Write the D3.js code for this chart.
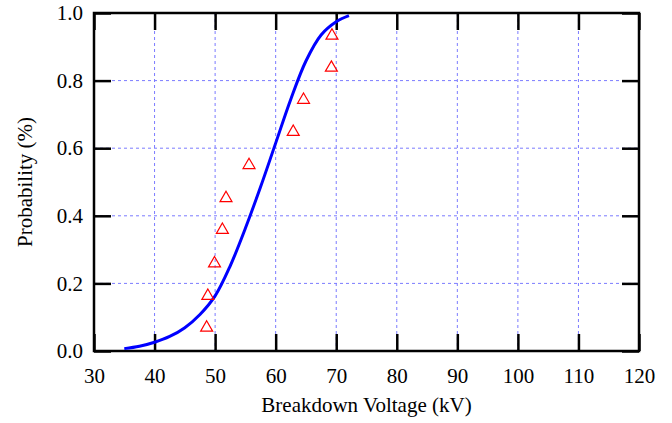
<!DOCTYPE html>
<meta charset="utf-8">
<script src="https://d3js.org/d3.v7.min.js"></script>
<style>
  body { margin: 0; background: #fff; }
  text { font-family: "Liberation Serif", "Times New Roman", serif; fill: #000; }
</style>
<svg id="chart" width="672" height="423"></svg>
<script>

// measured breakdown points
var voltage = [48.6, 48.8, 49.9, 51.2, 51.8, 55.6, 62.9, 64.6, 69.2, 69.3];
var prob    = [0.072, 0.166, 0.262, 0.361, 0.455, 0.553, 0.651, 0.746, 0.841, 0.936];

// fitted curve
var curveV = [35, 37.5, 40, 42.5, 45, 47.5, 50, 52.5, 55, 57.5, 60, 62.5, 65, 67.5, 70, 72.1];
var curveP = [0.007, 0.014, 0.026, 0.043, 0.069, 0.108, 0.163, 0.252, 0.363, 0.485, 0.615, 0.745, 0.858, 0.935, 0.974, 0.992];

var xTicks = [30, 40, 50, 60, 70, 80, 90, 100, 110, 120];
var yTicks = [0, 0.2, 0.4, 0.6, 0.8, 1.0];

var svg = d3.select("#chart");
var pL = 94, pR = 639, pT = 13, pB = 351;

var x = d3.scaleLinear().domain([30, 120]).range([pL, pR]);
var y = d3.scaleLinear().domain([0, 1]).range([pB, pT]);

// grid
svg.append("g").selectAll("line")
  .data(xTicks.slice(1, -1))
  .enter().append("line")
    .attr("x1", d => x(d)).attr("x2", d => x(d))
    .attr("y1", pT).attr("y2", pB)
    .attr("stroke", "#7b7bff").attr("stroke-width", 1)
    .attr("stroke-dasharray", "3,3");
svg.append("g").selectAll("line")
  .data(yTicks.slice(1, -1))
  .enter().append("line")
    .attr("x1", pL).attr("x2", pR)
    .attr("y1", d => y(d)).attr("y2", d => y(d))
    .attr("stroke", "#7b7bff").attr("stroke-width", 1)
    .attr("stroke-dasharray", "3,3");

// axes with inward ticks on all four sides
var tl = 17;
svg.append("g").attr("transform", "translate(0," + pB + ")")
  .call(d3.axisBottom(x).tickValues(xTicks).tickSizeInner(-tl).tickSizeOuter(0).tickPadding(17))
  .call(g => g.select(".domain").remove());
svg.append("g").attr("transform", "translate(0," + pT + ")")
  .call(d3.axisTop(x).tickValues(xTicks).tickSizeInner(-tl).tickSizeOuter(0).tickFormat(""))
  .call(g => g.select(".domain").remove());
svg.append("g").attr("transform", "translate(" + pL + ",0)")
  .call(d3.axisLeft(y).tickValues(yTicks).tickSizeInner(-tl).tickSizeOuter(0).tickPadding(11).tickFormat(d3.format(".1f")))
  .call(g => g.select(".domain").remove());
svg.append("g").attr("transform", "translate(" + pR + ",0)")
  .call(d3.axisRight(y).tickValues(yTicks).tickSizeInner(-tl).tickSizeOuter(0).tickFormat(""))
  .call(g => g.select(".domain").remove());

svg.selectAll(".tick line").attr("stroke", "#000").attr("stroke-width", 2.5);
svg.selectAll(".tick text")
  .attr("font-size", 21)
  .style("font-family", "'Liberation Serif', 'Times New Roman', serif");

// frame
svg.append("rect")
  .attr("x", pL).attr("y", pT)
  .attr("width", pR - pL).attr("height", pB - pT)
  .attr("fill", "none").attr("stroke", "#000").attr("stroke-width", 2.5);

// curve
var line = d3.line()
  .x((d, i) => x(curveV[i]))
  .y((d, i) => y(curveP[i]))
  .curve(d3.curveCatmullRom);
svg.append("path")
  .datum(curveV)
  .attr("d", line)
  .attr("fill", "none").attr("stroke", "#0000ff").attr("stroke-width", 3);

// markers
var tri = d3.symbol().type(d3.symbolTriangle).size(62);
svg.append("g").selectAll("path")
  .data(voltage)
  .enter().append("path")
    .attr("d", tri)
    .attr("transform", (d, i) => "translate(" + x(d) + "," + (y(prob[i]) + 1) + ")")
    .attr("fill", "none").attr("stroke", "#ff0000").attr("stroke-width", 1.2);

// titles
svg.append("text")
  .attr("x", (pL + pR) / 2).attr("y", 412)
  .attr("text-anchor", "middle").attr("font-size", 21)
  .text("Breakdown Voltage (kV)");
svg.append("text")
  .attr("transform", "translate(32," + ((pT + pB) / 2) + ") rotate(-90)")
  .attr("text-anchor", "middle").attr("font-size", 21)
  .text("Probability (%)");

</script>
